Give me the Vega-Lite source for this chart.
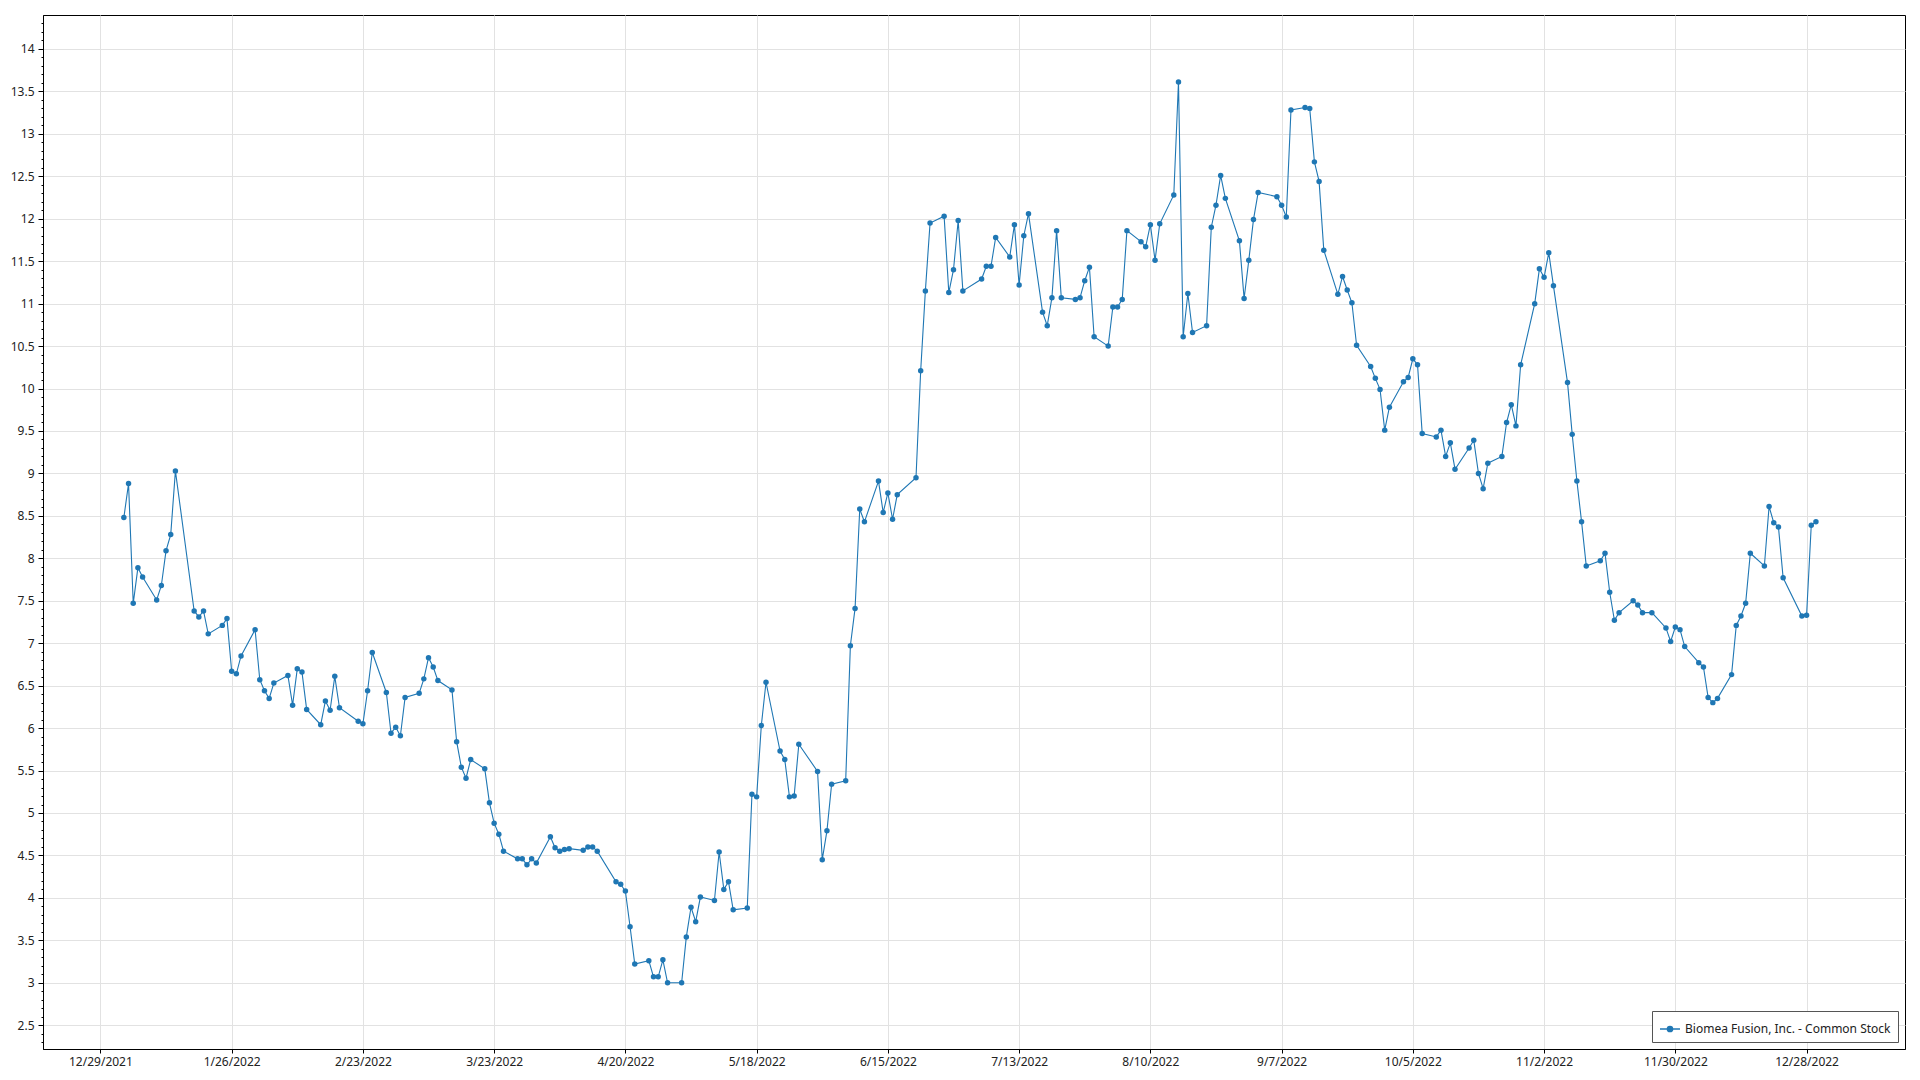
{
 "$schema": "https://vega.github.io/schema/vega-lite/v6.json",
 "width": 1862,
 "height": 1034,
 "autosize": {"type": "none"},
 "padding": {"left": 43, "top": 15, "right": 15, "bottom": 31},
 "background": "white",
 "config": {
  "view": {"stroke": "#000", "strokeWidth": 1},
  "font": "Noto Sans",
  "axis": {"domainColor": "#000", "tickColor": "#000", "labelColor": "#222", "labelFontSize": 12, "gridColor": "#e2e2e2", "gridWidth": 1, "title": null}
 },
 "data": {"values": [
  {"d":"2022-01-03","v":8.48},{"d":"2022-01-04","v":8.88},{"d":"2022-01-05","v":7.47},{"d":"2022-01-06","v":7.89},{"d":"2022-01-07","v":7.78},
  {"d":"2022-01-10","v":7.51},{"d":"2022-01-11","v":7.68},{"d":"2022-01-12","v":8.09},{"d":"2022-01-13","v":8.28},{"d":"2022-01-14","v":9.03},
  {"d":"2022-01-18","v":7.38},{"d":"2022-01-19","v":7.31},{"d":"2022-01-20","v":7.38},{"d":"2022-01-21","v":7.11},
  {"d":"2022-01-24","v":7.21},{"d":"2022-01-25","v":7.29},{"d":"2022-01-26","v":6.67},{"d":"2022-01-27","v":6.64},{"d":"2022-01-28","v":6.85},
  {"d":"2022-01-31","v":7.16},{"d":"2022-02-01","v":6.57},{"d":"2022-02-02","v":6.44},{"d":"2022-02-03","v":6.35},{"d":"2022-02-04","v":6.53},
  {"d":"2022-02-07","v":6.62},{"d":"2022-02-08","v":6.27},{"d":"2022-02-09","v":6.70},{"d":"2022-02-10","v":6.66},{"d":"2022-02-11","v":6.22},
  {"d":"2022-02-14","v":6.04},{"d":"2022-02-15","v":6.32},{"d":"2022-02-16","v":6.21},{"d":"2022-02-17","v":6.61},{"d":"2022-02-18","v":6.24},
  {"d":"2022-02-22","v":6.08},{"d":"2022-02-23","v":6.05},{"d":"2022-02-24","v":6.44},{"d":"2022-02-25","v":6.89},
  {"d":"2022-02-28","v":6.42},{"d":"2022-03-01","v":5.94},{"d":"2022-03-02","v":6.01},{"d":"2022-03-03","v":5.91},{"d":"2022-03-04","v":6.36},
  {"d":"2022-03-07","v":6.41},{"d":"2022-03-08","v":6.58},{"d":"2022-03-09","v":6.83},{"d":"2022-03-10","v":6.72},{"d":"2022-03-11","v":6.56},
  {"d":"2022-03-14","v":6.45},{"d":"2022-03-15","v":5.84},{"d":"2022-03-16","v":5.54},{"d":"2022-03-17","v":5.41},{"d":"2022-03-18","v":5.63},
  {"d":"2022-03-21","v":5.52},{"d":"2022-03-22","v":5.12},{"d":"2022-03-23","v":4.88},{"d":"2022-03-24","v":4.75},{"d":"2022-03-25","v":4.55},
  {"d":"2022-03-28","v":4.46},{"d":"2022-03-29","v":4.46},{"d":"2022-03-30","v":4.39},{"d":"2022-03-31","v":4.46},{"d":"2022-04-01","v":4.41},
  {"d":"2022-04-04","v":4.72},{"d":"2022-04-05","v":4.59},{"d":"2022-04-06","v":4.55},{"d":"2022-04-07","v":4.57},{"d":"2022-04-08","v":4.58},
  {"d":"2022-04-11","v":4.56},{"d":"2022-04-12","v":4.60},{"d":"2022-04-13","v":4.60},{"d":"2022-04-14","v":4.55},
  {"d":"2022-04-18","v":4.19},{"d":"2022-04-19","v":4.16},{"d":"2022-04-20","v":4.08},{"d":"2022-04-21","v":3.66},{"d":"2022-04-22","v":3.22},
  {"d":"2022-04-25","v":3.26},{"d":"2022-04-26","v":3.07},{"d":"2022-04-27","v":3.07},{"d":"2022-04-28","v":3.27},{"d":"2022-04-29","v":3.00},
  {"d":"2022-05-02","v":3.00},{"d":"2022-05-03","v":3.54},{"d":"2022-05-04","v":3.89},{"d":"2022-05-05","v":3.72},{"d":"2022-05-06","v":4.01},
  {"d":"2022-05-09","v":3.97},{"d":"2022-05-10","v":4.54},{"d":"2022-05-11","v":4.10},{"d":"2022-05-12","v":4.19},{"d":"2022-05-13","v":3.86},
  {"d":"2022-05-16","v":3.88},{"d":"2022-05-17","v":5.22},{"d":"2022-05-18","v":5.19},{"d":"2022-05-19","v":6.03},{"d":"2022-05-20","v":6.54},
  {"d":"2022-05-23","v":5.73},{"d":"2022-05-24","v":5.63},{"d":"2022-05-25","v":5.19},{"d":"2022-05-26","v":5.20},{"d":"2022-05-27","v":5.81},
  {"d":"2022-05-31","v":5.49},{"d":"2022-06-01","v":4.45},{"d":"2022-06-02","v":4.79},{"d":"2022-06-03","v":5.34},
  {"d":"2022-06-06","v":5.38},{"d":"2022-06-07","v":6.97},{"d":"2022-06-08","v":7.41},{"d":"2022-06-09","v":8.58},{"d":"2022-06-10","v":8.43},
  {"d":"2022-06-13","v":8.91},{"d":"2022-06-14","v":8.54},{"d":"2022-06-15","v":8.77},{"d":"2022-06-16","v":8.46},{"d":"2022-06-17","v":8.75},
  {"d":"2022-06-21","v":8.95},{"d":"2022-06-22","v":10.21},{"d":"2022-06-23","v":11.15},{"d":"2022-06-24","v":11.95},
  {"d":"2022-06-27","v":12.03},{"d":"2022-06-28","v":11.13},{"d":"2022-06-29","v":11.40},{"d":"2022-06-30","v":11.98},{"d":"2022-07-01","v":11.15},
  {"d":"2022-07-05","v":11.29},{"d":"2022-07-06","v":11.44},{"d":"2022-07-07","v":11.44},{"d":"2022-07-08","v":11.78},
  {"d":"2022-07-11","v":11.55},{"d":"2022-07-12","v":11.93},{"d":"2022-07-13","v":11.22},{"d":"2022-07-14","v":11.80},{"d":"2022-07-15","v":12.06},
  {"d":"2022-07-18","v":10.90},{"d":"2022-07-19","v":10.74},{"d":"2022-07-20","v":11.07},{"d":"2022-07-21","v":11.86},{"d":"2022-07-22","v":11.07},
  {"d":"2022-07-25","v":11.05},{"d":"2022-07-26","v":11.07},{"d":"2022-07-27","v":11.27},{"d":"2022-07-28","v":11.43},{"d":"2022-07-29","v":10.61},
  {"d":"2022-08-01","v":10.50},{"d":"2022-08-02","v":10.96},{"d":"2022-08-03","v":10.96},{"d":"2022-08-04","v":11.05},{"d":"2022-08-05","v":11.86},
  {"d":"2022-08-08","v":11.73},{"d":"2022-08-09","v":11.67},{"d":"2022-08-10","v":11.93},{"d":"2022-08-11","v":11.51},{"d":"2022-08-12","v":11.94},
  {"d":"2022-08-15","v":12.28},{"d":"2022-08-16","v":13.61},{"d":"2022-08-17","v":10.61},{"d":"2022-08-18","v":11.12},{"d":"2022-08-19","v":10.66},
  {"d":"2022-08-22","v":10.74},{"d":"2022-08-23","v":11.90},{"d":"2022-08-24","v":12.16},{"d":"2022-08-25","v":12.51},{"d":"2022-08-26","v":12.24},
  {"d":"2022-08-29","v":11.74},{"d":"2022-08-30","v":11.06},{"d":"2022-08-31","v":11.51},{"d":"2022-09-01","v":11.99},{"d":"2022-09-02","v":12.31},
  {"d":"2022-09-06","v":12.26},{"d":"2022-09-07","v":12.16},{"d":"2022-09-08","v":12.02},{"d":"2022-09-09","v":13.28},
  {"d":"2022-09-12","v":13.31},{"d":"2022-09-13","v":13.30},{"d":"2022-09-14","v":12.67},{"d":"2022-09-15","v":12.44},{"d":"2022-09-16","v":11.63},
  {"d":"2022-09-19","v":11.11},{"d":"2022-09-20","v":11.32},{"d":"2022-09-21","v":11.16},{"d":"2022-09-22","v":11.01},{"d":"2022-09-23","v":10.51},
  {"d":"2022-09-26","v":10.26},{"d":"2022-09-27","v":10.12},{"d":"2022-09-28","v":9.99},{"d":"2022-09-29","v":9.51},{"d":"2022-09-30","v":9.78},
  {"d":"2022-10-03","v":10.08},{"d":"2022-10-04","v":10.13},{"d":"2022-10-05","v":10.35},{"d":"2022-10-06","v":10.28},{"d":"2022-10-07","v":9.47},
  {"d":"2022-10-10","v":9.43},{"d":"2022-10-11","v":9.51},{"d":"2022-10-12","v":9.20},{"d":"2022-10-13","v":9.36},{"d":"2022-10-14","v":9.05},
  {"d":"2022-10-17","v":9.30},{"d":"2022-10-18","v":9.39},{"d":"2022-10-19","v":9.00},{"d":"2022-10-20","v":8.82},{"d":"2022-10-21","v":9.12},
  {"d":"2022-10-24","v":9.20},{"d":"2022-10-25","v":9.60},{"d":"2022-10-26","v":9.81},{"d":"2022-10-27","v":9.56},{"d":"2022-10-28","v":10.28},
  {"d":"2022-10-31","v":11.00},{"d":"2022-11-01","v":11.41},{"d":"2022-11-02","v":11.31},{"d":"2022-11-03","v":11.60},{"d":"2022-11-04","v":11.21},
  {"d":"2022-11-07","v":10.07},{"d":"2022-11-08","v":9.46},{"d":"2022-11-09","v":8.91},{"d":"2022-11-10","v":8.43},{"d":"2022-11-11","v":7.91},
  {"d":"2022-11-14","v":7.97},{"d":"2022-11-15","v":8.06},{"d":"2022-11-16","v":7.60},{"d":"2022-11-17","v":7.27},{"d":"2022-11-18","v":7.36},
  {"d":"2022-11-21","v":7.50},{"d":"2022-11-22","v":7.45},{"d":"2022-11-23","v":7.36},{"d":"2022-11-25","v":7.36},
  {"d":"2022-11-28","v":7.18},{"d":"2022-11-29","v":7.02},{"d":"2022-11-30","v":7.19},{"d":"2022-12-01","v":7.16},{"d":"2022-12-02","v":6.96},
  {"d":"2022-12-05","v":6.77},{"d":"2022-12-06","v":6.72},{"d":"2022-12-07","v":6.36},{"d":"2022-12-08","v":6.30},{"d":"2022-12-09","v":6.35},
  {"d":"2022-12-12","v":6.63},{"d":"2022-12-13","v":7.21},{"d":"2022-12-14","v":7.32},{"d":"2022-12-15","v":7.47},{"d":"2022-12-16","v":8.06},
  {"d":"2022-12-19","v":7.91},{"d":"2022-12-20","v":8.61},{"d":"2022-12-21","v":8.42},{"d":"2022-12-22","v":8.37},{"d":"2022-12-23","v":7.77},
  {"d":"2022-12-27","v":7.32},{"d":"2022-12-28","v":7.33},{"d":"2022-12-29","v":8.39},{"d":"2022-12-30","v":8.43}
 ]},
 "mark": {"type": "line", "strokeWidth": 1.1, "point": {"filled": true, "size": 30}},
 "encoding": {
  "x": {
   "field": "d", "type": "temporal",
   "scale": {"type": "utc", "domain": [{"year": 2021, "month": 12, "date": 16, "hours": 18, "utc": true}, {"year": 2023, "month": 1, "date": 18, "utc": true}]},
   "axis": {
    "values": [
     {"year": 2021, "month": 12, "date": 29, "utc": true},
     {"year": 2022, "month": 1, "date": 26, "utc": true},
     {"year": 2022, "month": 2, "date": 23, "utc": true},
     {"year": 2022, "month": 3, "date": 23, "utc": true},
     {"year": 2022, "month": 4, "date": 20, "utc": true},
     {"year": 2022, "month": 5, "date": 18, "utc": true},
     {"year": 2022, "month": 6, "date": 15, "utc": true},
     {"year": 2022, "month": 7, "date": 13, "utc": true},
     {"year": 2022, "month": 8, "date": 10, "utc": true},
     {"year": 2022, "month": 9, "date": 7, "utc": true},
     {"year": 2022, "month": 10, "date": 5, "utc": true},
     {"year": 2022, "month": 11, "date": 2, "utc": true},
     {"year": 2022, "month": 11, "date": 30, "utc": true},
     {"year": 2022, "month": 12, "date": 28, "utc": true}
    ],
    "labelExpr": "utcFormat(datum.value, '%-m/%-d/%Y')",
    "tickSize": 4,
    "labelPadding": 3,
    "grid": true,
    "labelFlush": false,
    "labelOverlap": false
   }
  },
  "y": {
   "field": "v", "type": "quantitative",
   "scale": {"domain": [2.22, 14.4], "zero": false, "nice": false},
   "axis": {
    "values": [2.3,2.4,2.5,2.6,2.7,2.8,2.9,3.0,3.1,3.2,3.3,3.4,3.5,3.6,3.7,3.8,3.9,4.0,4.1,4.2,4.3,4.4,4.5,4.6,4.7,4.8,4.9,5.0,5.1,5.2,5.3,5.4,5.5,5.6,5.7,5.8,5.9,6.0,6.1,6.2,6.3,6.4,6.5,6.6,6.7,6.8,6.9,7.0,7.1,7.2,7.3,7.4,7.5,7.6,7.7,7.8,7.9,8.0,8.1,8.2,8.3,8.4,8.5,8.6,8.7,8.8,8.9,9.0,9.1,9.2,9.3,9.4,9.5,9.6,9.7,9.8,9.9,10.0,10.1,10.2,10.3,10.4,10.5,10.6,10.7,10.8,10.9,11.0,11.1,11.2,11.3,11.4,11.5,11.6,11.7,11.8,11.9,12.0,12.1,12.2,12.3,12.4,12.5,12.6,12.7,12.8,12.9,13.0,13.1,13.2,13.3,13.4,13.5,13.6,13.7,13.8,13.9,14.0,14.1,14.2,14.3],
    "labelExpr": "abs(datum.value*2 - round(datum.value*2)) < 0.01 ? '' + round(datum.value*10)/10 : ''",
    "tickSize": {"condition": {"test": "abs(datum.value*2 - round(datum.value*2)) < 0.01", "value": 5}, "value": 2},
    "gridOpacity": {"condition": {"test": "abs(datum.value*2 - round(datum.value*2)) < 0.01", "value": 1}, "value": 0},
    "grid": true,
    "labelPadding": 4,
    "labelOverlap": false,
    "labelFlush": false
   }
  },
  "color": {
   "datum": "Biomea Fusion, Inc. - Common Stock",
   "scale": {"range": ["#1f77b4"]},
   "legend": {
    "title": null,
    "orient": "bottom-right",
    "offset": 7,
    "padding": 7,
    "strokeColor": "#555",
    "fillColor": "white",
    "labelFontSize": 12,
    "labelColor": "#222",
    "labelLimit": 400,
    "symbolType": "M-1,0H1M-0.26,0A0.26,0.26 0 1,1 0.26,0A0.26,0.26 0 1,1 -0.26,0Z",
    "symbolSize": 400,
    "symbolStrokeWidth": 1.5,
    "symbolFillColor": "#1f77b4",
    "symbolStrokeColor": "#1f77b4"
   }
  }
 }
}
